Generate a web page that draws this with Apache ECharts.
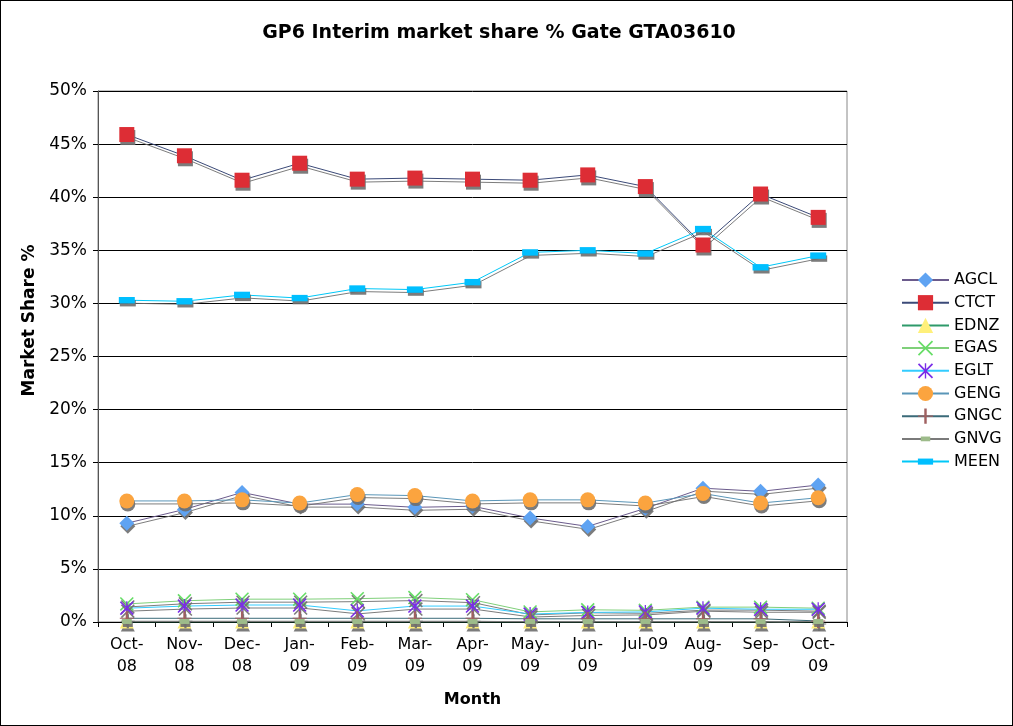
<!DOCTYPE html>
<html>
<head>
<meta charset="utf-8">
<script src="https://cdn.jsdelivr.net/npm/echarts@6/dist/echarts.min.js"></script>
<style>
  html, body { margin: 0; padding: 0; background: #fff; }
  #main { width: 1013px; height: 726px; box-sizing: border-box; border: 1px solid #000; }
</style>
</head>
<body>
<div id="main"></div>
<script>
// month categories and their wrapped tick labels
var months = ['Oct-08', 'Nov-08', 'Dec-08', 'Jan-09', 'Feb-09', 'Mar-09', 'Apr-09',
  'May-09', 'Jun-09', 'Jul-09', 'Aug-09', 'Sep-09', 'Oct-09'];
var tickLabels = ['Oct-\n08', 'Nov-\n08', 'Dec-\n08', 'Jan-\n09', 'Feb-\n09', 'Mar-\n09', 'Apr-\n09',
  'May-\n09', 'Jun-\n09', 'Jul-09', 'Aug-\n09', 'Sep-\n09', 'Oct-\n09'];

// market share % per shipper
var agcl = [9.3, 10.6, 12.2, 11.1, 11.1, 10.8, 10.9, 9.8, 9.0, 10.7, 12.6, 12.3, 12.9];
var ctct = [45.9, 43.9, 41.6, 43.2, 41.7, 41.8, 41.7, 41.6, 42.1, 41.0, 35.5, 40.3, 38.1];
var ednz = [0, 0, 0, 0, 0, 0, 0, 0, 0, 0, 0, 0, 0];
var egas = [1.7, 2.0, 2.15, 2.15, 2.2, 2.3, 2.1, 0.95, 1.15, 1.1, 1.4, 1.4, 1.3];
var eglt = [1.3, 1.5, 1.6, 1.6, 1.05, 1.5, 1.5, 0.75, 0.9, 0.95, 1.3, 1.2, 1.2];
var geng = [11.4, 11.4, 11.5, 11.2, 12.0, 11.9, 11.4, 11.5, 11.5, 11.2, 12.1, 11.2, 11.7];
var gngc = [0.35, 0.35, 0.35, 0.35, 0.35, 0.35, 0.35, 0.3, 0.3, 0.3, 0.3, 0.3, 0.1];
var gnvg = [0.05, 0.05, 0.05, 0.05, 0.05, 0.05, 0.05, 0.05, 0.05, 0.05, 0.05, 0.05, 0.05];
var meen = [30.3, 30.2, 30.8, 30.5, 31.4, 31.3, 32.0, 34.8, 35.0, 34.7, 37.0, 33.4, 34.5];

var FONT = 'DejaVu Sans';

// thin stroke shapes as filled paths (leading M points pad the box to a square)
var xPath = 'path://M0,0.8L0.8,0L10,9.2L9.2,10Z M9.2,0L10,0.8L0.8,10L0,9.2Z';
var starPath = 'path://M0,0.8L0.8,0L10,9.2L9.2,10Z M9.2,0L10,0.8L0.8,10L0,9.2Z M4.55,0H5.45V10H4.55Z M4,4L6,4L6,6L4,6Z';
var plusPath = 'path://M4.6,0H5.4V10H4.6Z M2.5,4.6H7.5V5.4H2.5Z';
var wideRect = 'path://M0,0M16,16M0,4.8H16V11.2H0Z';
var smallRect = 'path://M0,0M16,16M3,5.5H13V10.5H3Z';

function mk(name, data, lineColor, symbol, size, fill) {
  return {
    name: name,
    type: 'line',
    data: data,
    symbol: symbol,
    symbolSize: size,
    showAllSymbol: true,
    lineStyle: {
      color: lineColor, width: 1,
      shadowColor: 'rgba(110,110,110,0.9)', shadowOffsetX: 1, shadowOffsetY: 3, shadowBlur: 0
    },
    itemStyle: {
      color: fill, borderWidth: 0,
      shadowColor: 'rgba(110,110,110,0.9)', shadowOffsetX: 1, shadowOffsetY: 3, shadowBlur: 0
    },
    emphasis: { disabled: true },
    animation: false
  };
}

var chart = echarts.init(document.getElementById('main'));
chart.setOption({
  backgroundColor: '#fff',
  animation: false,
  title: {
    text: 'GP6 Interim market share % Gate GTA03610',
    left: 493, top: 18, textAlign: 'center',
    textStyle: { fontFamily: FONT, fontSize: 19, fontWeight: 'bold', color: '#000' }
  },
  grid: { left: 97, right: 165, top: 90, bottom: 103, show: true, borderColor: '#888', borderWidth: 1 },
  legend: {
    orient: 'vertical', left: 895, top: 266,
    itemWidth: 47, itemHeight: 19, itemGap: 6.7,
    itemStyle: { shadowColor: 'transparent', shadowOffsetX: 0, shadowOffsetY: 0 },
    lineStyle: { shadowColor: 'transparent', shadowOffsetX: 0, shadowOffsetY: 0 },
    textStyle: { fontFamily: FONT, fontSize: 16, color: '#000', padding: [0, 0, 0, 0] },
    data: ['AGCL', 'CTCT', 'EDNZ', 'EGAS', 'EGLT', 'GENG', 'GNGC', 'GNVG', 'MEEN']
  },
  xAxis: {
    type: 'category',
    data: months,
    boundaryGap: true,
    name: 'Month', nameLocation: 'middle', nameGap: 70,
    nameTextStyle: { fontFamily: FONT, fontSize: 16, fontWeight: 'bold', color: '#000' },
    axisLine: { lineStyle: { color: '#000', width: 1 } },
    axisTick: { show: true, alignWithLabel: false, length: 5, lineStyle: { color: '#000' } },
    axisLabel: {
      interval: 0, margin: 12, lineHeight: 22,
      fontFamily: FONT, fontSize: 16, color: '#000',
      formatter: function (v, i) { return tickLabels[i]; }
    },
    splitLine: { show: false }
  },
  yAxis: {
    type: 'value', min: 0, max: 50, interval: 5,
    name: 'Market Share %', nameLocation: 'middle', nameGap: 60, nameRotate: 90,
    nameTextStyle: { fontFamily: FONT, fontSize: 17, fontWeight: 'bold', color: '#000', padding: [0, 0, 0, 72] },
    axisLine: { show: true, lineStyle: { color: '#555', width: 1 } },
    axisTick: { show: true, length: 5, lineStyle: { color: '#000' } },
    axisLabel: { formatter: '{value}%', margin: 11, fontFamily: FONT, fontSize: 17, color: '#000' },
    splitLine: { show: true, lineStyle: { color: '#000', width: 1 } }
  },
  series: [
    mk('AGCL', agcl, '#6b5b8c', 'diamond', [15, 15], '#5fa3f2'),
    mk('CTCT', ctct, '#3b4a78', 'rect', [15, 15], '#dd2d35'),
    mk('EDNZ', ednz, '#2e9a6a', 'triangle', [14, 13], '#fff07a'),
    mk('EGAS', egas, '#7fd07a', xPath, [14, 14], '#66dd66'),
    mk('EGLT', eglt, '#33ccff', starPath, [14, 14], '#7a2de8'),
    mk('GENG', geng, '#5a96b8', 'circle', [15, 15], '#fba43f'),
    mk('GNGC', gngc, '#3a6a78', plusPath, [14, 14], '#a06060'),
    mk('GNVG', gnvg, '#7a7a7a', smallRect, [16, 16], '#9dbb8a'),
    mk('MEEN', meen, '#00c8f8', wideRect, [16, 16], '#00bfff')
  ]
});
</script>
</body>
</html>
